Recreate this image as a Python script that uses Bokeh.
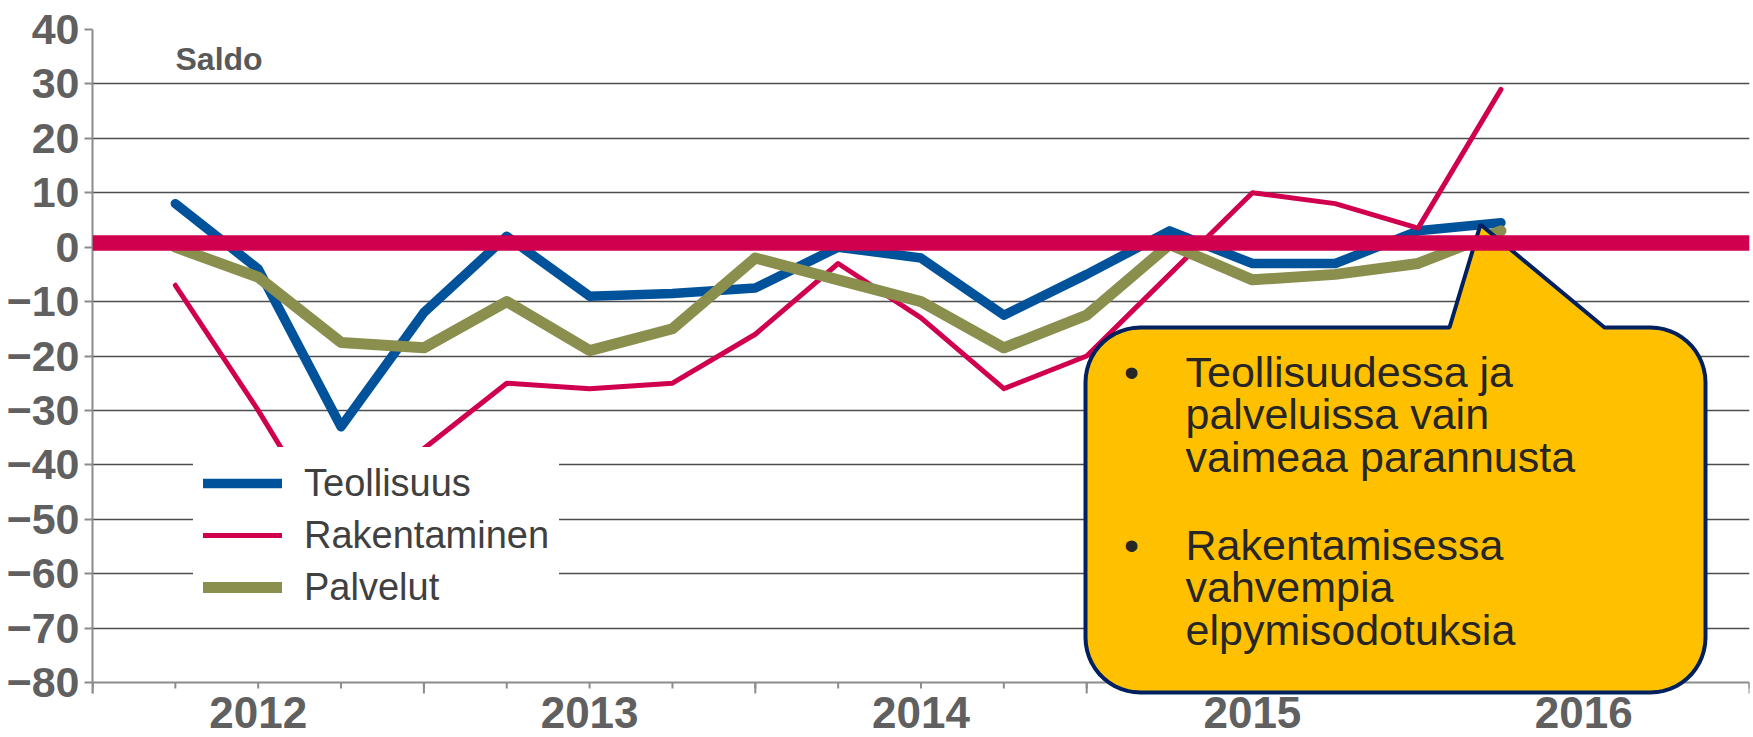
import numpy as np
from bokeh.plotting import figure
from bokeh.models import (Range1d, FixedTicker, Label, Span, PolyAnnotation,
                          Legend, LegendItem)
from bokeh.embed import file_html
from bokeh.resources import INLINE

# ---------------- data ----------------
periods = list(range(17))          # quarterly observations
teollisuus = [8, -4, -33, -12, 2, -9, -8.5, -7.5, 0, -2, -12.5, -5, 3, -3, -3, 3, 4.5]
rakentaminen = [-7, -30, -55, -37, -25, -26, -25, -16, -3, -13, -26, -20, -5, 10, 8, 3.5, 29]
palvelut = [0, -5.5, -17.5, -18.5, -10, -19, -15, -2, -6, -10, -18.5, -12.5, 0.5, -6, -5, -3, 3]
series_names = ["Teollisuus", "Rakentaminen", "Palvelut"]
years = ["2012", "2013", "2014", "2015", "2016"]
year_pos = [1, 5, 9, 13, 17]
year_bounds = [-1, 3, 7, 11, 15, 19]
quarter_ticks = list(range(-1, 20))
y_ticks = list(range(-80, 41, 10))
zero_level = 0.75
callout_lines = [["Teollisuudessa ja", "palveluissa vain", "vaimeaa parannusta"],
                 ["Rakentamisessa", "vahvempia", "elpymisodotuksia"]]

# ---------------- layout (page pixels; Bokeh's page template has no body margin) ----------------
MARGIN = 0
W, H = 1752, 736
FL, FR, FT = 92, 1749, 29          # frame left / right / top on the page
AXB = 682                          # page y of the value -80 (x axis line)
BL, BR, BT, BB = FL - MARGIN, MARGIN + W - FR, FT - MARGIN, 0
FB = MARGIN + H - BB
X0, X1, YMIN, YMAX = -1, 19, -80, 40
PX_PER_UNIT = (AXB - FT) / (YMAX - YMIN)


def px_x(px):
    return X0 + (px - FL) / (FR - FL) * (X1 - X0)


def px_y(py):
    return YMAX - (py - FT) / PX_PER_UNIT


# measured: Bokeh draws an "alphabetic" label this much below the requested baseline
def base_y(py, size):
    return px_y(py - 0.44 * size)


FONT = "Liberation Sans"
GRAY = "#606060"
AXC = "#8c8c8c"

p = figure(width=W, height=H, output_backend="svg", toolbar_location=None,
           title=None, x_axis_location=None,
           x_range=Range1d(X0, X1), y_range=Range1d(px_y(FB), YMAX),
           min_border_left=BL, min_border_right=BR, min_border_top=BT,
           min_border_bottom=BB)
p.outline_line_color = None
p.background_fill_color = "white"
p.border_fill_color = "white"

# y axis
yax = p.yaxis[0]
yax.ticker = FixedTicker(ticks=y_ticks)
yax.bounds = (px_y(AXB + 11), YMAX)
yax.major_label_text_font = FONT
yax.major_label_text_font_size = "43px"
yax.major_label_text_font_style = "bold"
yax.major_label_text_color = GRAY
yax.major_tick_out = 8
yax.major_tick_in = 0
yax.minor_tick_out = 0
yax.minor_tick_in = 0
yax.axis_line_color = AXC
yax.axis_line_width = 2
yax.major_tick_line_color = AXC
yax.major_tick_line_width = 2
yax.major_label_standoff = 5

p.xgrid.visible = False
p.ygrid.ticker = FixedTicker(ticks=y_ticks[1:])
p.ygrid.grid_line_color = "#4d4d4d"
p.ygrid.grid_line_width = 1.6

# x axis drawn by hand (line + quarter ticks + year boundary ticks)
p.segment(x0=[X0], y0=[YMIN], x1=[X1], y1=[YMIN], line_color=AXC, line_width=2)
minor_len = 6 / PX_PER_UNIT
major_len = 11 / PX_PER_UNIT
p.segment(x0=quarter_ticks, y0=[YMIN] * len(quarter_ticks), x1=quarter_ticks,
          y1=[YMIN - minor_len] * len(quarter_ticks), line_color=AXC, line_width=2)
p.segment(x0=year_bounds, y0=[YMIN] * len(year_bounds), x1=year_bounds,
          y1=[YMIN - major_len] * len(year_bounds), line_color=AXC, line_width=2)

# series
r1 = p.line(periods, teollisuus, line_color="#00539B", line_width=9.5,
            line_join="round", line_cap="round")
r2 = p.line(periods, rakentaminen, line_color="#D0004F", line_width=5,
            line_join="round", line_cap="round")
r3 = p.line(periods, palvelut, line_color="#8A8F4E", line_width=11,
            line_join="round", line_cap="round")

legend = Legend(items=[LegendItem(label=series_names[0], renderers=[r1]),
                       LegendItem(label=series_names[1], renderers=[r2]),
                       LegendItem(label=series_names[2], renderers=[r3])],
                location=(193 - FL, FB - 623), background_fill_color="white",
                background_fill_alpha=1.0, border_line_alpha=0,
                label_text_font=FONT, label_text_font_size="38px",
                label_text_color="#404040", glyph_width=79, glyph_height=52,
                label_height=52, label_standoff=22, spacing=0, padding=10,
                margin=0)
p.add_layout(legend)

# callout shape (page px -> data)
L, R, T, B, rad = 1085, 1705, 327, 692, 55
pts = [(L + rad, T), (1449, T), (1480, 224), (1604, T), (R - rad, T)]


def arc(cx, cy, a0, a1):
    for t in np.linspace(np.radians(a0), np.radians(a1), 14):
        pts.append((cx + rad * np.cos(t), cy + rad * np.sin(t)))


arc(R - rad, T + rad, -90, 0)
pts.append((R, B - rad))
arc(R - rad, B - rad, 0, 90)
pts.append((L + rad, B))
arc(L + rad, B - rad, 90, 180)
pts.append((L, T + rad))
arc(L + rad, T + rad, 180, 270)

callout = PolyAnnotation(xs=[px_x(a) for a, b in pts], ys=[px_y(b) for a, b in pts],
                         fill_color="#FFC000", fill_alpha=1.0,
                         line_color="#002060", line_width=4, line_alpha=1.0)
p.add_layout(callout)

# zero reference band
p.add_layout(Span(location=zero_level, dimension="width", line_color="#D0004F",
                  line_width=15.5))

# callout text
CS = 43
baselines = [[390, 432.5, 475], [563, 605.5, 648]]
for block, bls in zip(callout_lines, baselines):
    p.add_layout(Label(x=px_x(1131), y=base_y(bls[0], CS), text="\u2022",
                       text_align="center", text_baseline="alphabetic",
                       text_font=FONT, text_font_size=f"{CS}px", text_color="#262626"))
    for line, bl in zip(block, bls):
        p.add_layout(Label(x=px_x(1185), y=base_y(bl, CS), text=line,
                           text_baseline="alphabetic", text_font=FONT,
                           text_font_size=f"{CS}px", text_color="#262626"))

# "Saldo"
p.add_layout(Label(x=px_x(175), y=base_y(71.7, 30), text="Saldo", text_baseline="alphabetic",
                   text_font=FONT, text_font_size="32px", text_font_style="bold",
                   text_color="#595959"))

# year labels
for yr, pos in zip(years, year_pos):
    p.add_layout(Label(x=pos, y=base_y(731.7, 44), text=yr, text_align="center",
                       text_baseline="alphabetic", text_font=FONT,
                       text_font_size="44px", text_font_style="bold",
                       text_color=GRAY))

open("out.html", "w").write(file_html(p, INLINE))
